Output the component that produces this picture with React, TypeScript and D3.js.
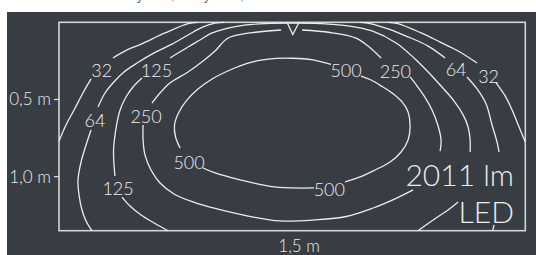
import React from 'react';
import * as d3 from 'd3';

const width = 536;
const height = 255;
const box = { left: 59, right: 525.3, top: 22.3, bottom: 230.7 };

// room in metres
const roomWidth = 3.0;
const roomDepth = 1.35;

type Pt = [number, number];

// isolux lines, each one split where a label sits
const lux32: Pt[][] = [
  [[0.347, 0.231], [0.438, 0.179], [0.528, 0.141], [0.682, 0.069], [0.83, 0.008], [0.894, 0]],
  [[0.206, 0.367], [0.154, 0.458], [0.097, 0.568], [0.045, 0.665], [0, 0.769]],
  [[2.117, 0], [2.181, 0.008], [2.33, 0.069], [2.452, 0.128], [2.568, 0.186], [2.69, 0.264]],
  [[2.812, 0.393], [2.87, 0.477], [2.915, 0.568], [2.96, 0.678], [3.0, 0.775]],
];

const lux64: Pt[][] = [
  [[0.251, 0.549], [0.296, 0.458], [0.347, 0.393], [0.418, 0.322], [0.502, 0.264], [0.624, 0.192],
    [0.727, 0.141], [0.83, 0.082], [0.927, 0.03], [1.004, 0.005], [1.062, 0]],
  [[0.206, 0.698], [0.174, 0.795], [0.142, 0.905], [0.122, 1.021], [0.129, 1.119], [0.148, 1.216],
    [0.174, 1.287], [0.212, 1.35]],
  [[1.937, 0], [2.001, 0.008], [2.117, 0.043], [2.233, 0.089], [2.375, 0.154], [2.484, 0.231]],
  [[2.625, 0.354], [2.69, 0.432], [2.748, 0.529], [2.786, 0.665], [2.818, 0.775], [2.831, 0.84]],
  [[2.799, 1.313], [2.79, 1.35]],
];

const lux125: Pt[][] = [
  [[0.714, 0.231], [0.83, 0.16], [0.907, 0.115], [0.985, 0.069], [1.088, 0.037], [1.203, 0.017],
    [1.326, 0.008], [1.499, 0.005], [1.68, 0.008], [1.847, 0.021], [2.014, 0.056], [2.169, 0.134],
    [2.284, 0.231], [2.375, 0.322], [2.458, 0.413], [2.542, 0.51], [2.6, 0.6], [2.632, 0.678],
    [2.645, 0.762], [2.645, 0.84]],
  [[0.534, 0.361], [0.476, 0.419], [0.431, 0.484], [0.393, 0.568], [0.367, 0.685], [0.351, 0.827],
    [0.354, 0.924], [0.36, 0.996]],
  [[0.405, 1.132], [0.457, 1.19], [0.528, 1.248], [0.618, 1.303], [0.701, 1.35]],
  [[2.568, 1.164], [2.503, 1.216], [2.426, 1.268], [2.31, 1.35]],
];

const lux250: Pt[][] = [
  [[0.598, 0.523], [0.65, 0.458], [0.714, 0.393], [0.83, 0.322], [0.927, 0.251], [1.004, 0.186],
    [1.088, 0.102], [1.229, 0.069], [1.429, 0.05]],
  [[1.564, 0.05], [1.744, 0.066], [1.911, 0.102], [1.988, 0.154], [2.072, 0.231]],
  [[0.541, 0.665], [0.541, 0.762], [0.553, 0.859], [0.592, 0.957], [0.65, 1.041], [0.74, 1.112],
    [0.862, 1.164], [1.004, 1.206], [1.216, 1.255], [1.422, 1.287], [1.647, 1.28], [1.847, 1.258],
    [2.021, 1.203], [2.162, 1.144], [2.278, 1.086]],
  [[2.259, 0.354], [2.304, 0.413], [2.349, 0.477], [2.4, 0.568], [2.439, 0.672], [2.458, 0.762],
    [2.452, 0.834]],
];

const lux500: Pt[][] = [
  [[1.75, 0.273], [1.634, 0.244], [1.499, 0.233], [1.345, 0.238], [1.216, 0.264], [1.1, 0.309],
    [0.985, 0.367], [0.894, 0.432], [0.824, 0.503], [0.772, 0.581], [0.743, 0.665], [0.75, 0.743],
    [0.779, 0.814]],
  [[0.927, 0.944], [1.004, 0.976], [1.165, 1.021], [1.358, 1.063], [1.499, 1.073], [1.641, 1.073]],
  [[1.84, 1.034], [1.937, 1.002], [2.033, 0.957], [2.13, 0.905], [2.201, 0.84], [2.246, 0.762],
    [2.259, 0.672], [2.246, 0.581], [2.207, 0.516], [2.143, 0.458], [2.079, 0.416], [2.008, 0.374],
    [1.943, 0.348]],
];

const contours = [lux32, lux64, lux125, lux250, lux500];

const labelText = ['32', '125', '64', '250', '500', '250', '64', '32', '500', '125', '500'];
const labelX = [0.275, 0.627, 0.232, 0.56, 1.847, 2.164, 2.555, 2.764, 0.837, 0.38, 1.739];
const labelY = [0.309, 0.309, 0.633, 0.611, 0.314, 0.32, 0.304, 0.348, 0.907, 1.075, 1.08];

const luminaire: Pt[] = [[1.467, 0], [1.504, 0.079], [1.545, 0]];

const yTicks = [0.5, 1.0];
const yTickLabels = ['0,5 m', '1,0 m'];
const xMark = 1.5;
const xMarkLabel = '1,5 m';
const fluxText = '2011 lm';
const sourceText = 'LED';

// bits of the caption line above, only their descenders show
const captionBits = ['y', ',', 'y', ','];
const captionX = [137, 171, 204, 240];

const bg = '#373d42';
const ink = '#ececec';
const font = 'Lato, "Open Sans", sans-serif';

export default function App() {
  const x = d3.scaleLinear().domain([0, roomWidth]).range([box.left, box.right]);
  const y = d3.scaleLinear().domain([0, roomDepth]).range([box.top, box.bottom]);
  const line = d3.line<Pt>()
    .x(d => x(d[0]))
    .y(d => y(d[1]))
    .curve(d3.curveCatmullRom.alpha(0.5));

  return (
    <svg width={width} height={height} style={{ position: 'absolute', left: 0, top: 0 }}
      fontFamily={font}>
      <rect width={width} height={height} fill="#fff" />
      {captionBits.map((c, i) => (
        <text key={i} x={captionX[i]} y={0} fontSize={12} fill="#555" fontFamily="sans-serif">{c}</text>
      ))}
      <rect x={7} y={12} width={width - 7} height={height - 12} fill={bg} />

      <rect x={box.left} y={box.top} width={box.right - box.left} height={box.bottom - box.top}
        fill="none" stroke="#d4d4d4" strokeWidth={1.6} />

      {contours.map((segs, i) => (
        <g key={i}>
          {segs.map((s, j) => (
            <path key={j} d={line(s) || ''} fill="none" stroke={ink} strokeWidth={1.3} />
          ))}
        </g>
      ))}

      <path d={d3.line<Pt>().x(d => x(d[0])).y(d => y(d[1]))(luminaire) || ''}
        fill="none" stroke={ink} strokeWidth={1.3} />

      {labelText.map((t, i) => (
        <text key={i} x={x(labelX[i])} y={y(labelY[i]) + 6.5} textAnchor="middle"
          fontSize={18} fontWeight={300} fill={ink}>{t}</text>
      ))}

      {yTicks.map((v, i) => (
        <g key={v}>
          <line x1={box.left - 5} x2={box.left} y1={y(v)} y2={y(v)} stroke="#d4d4d4" strokeWidth={1.3} />
          <text x={box.left - 8} y={y(v) + 6} textAnchor="end" fontSize={17} fontWeight={300}
            fill={ink}>{yTickLabels[i]}</text>
        </g>
      ))}
      <text x={x(xMark) + 7} y={252} textAnchor="middle" fontSize={17} fontWeight={300}
        fill={ink}>{xMarkLabel}</text>

      <text x={514} y={186} textAnchor="end" fontSize={30} fontWeight={300} fill={ink}>{fluxText}</text>
      <text x={514} y={223} textAnchor="end" fontSize={30} fontWeight={300} fill={ink}>{sourceText}</text>
    </svg>
  );
}
